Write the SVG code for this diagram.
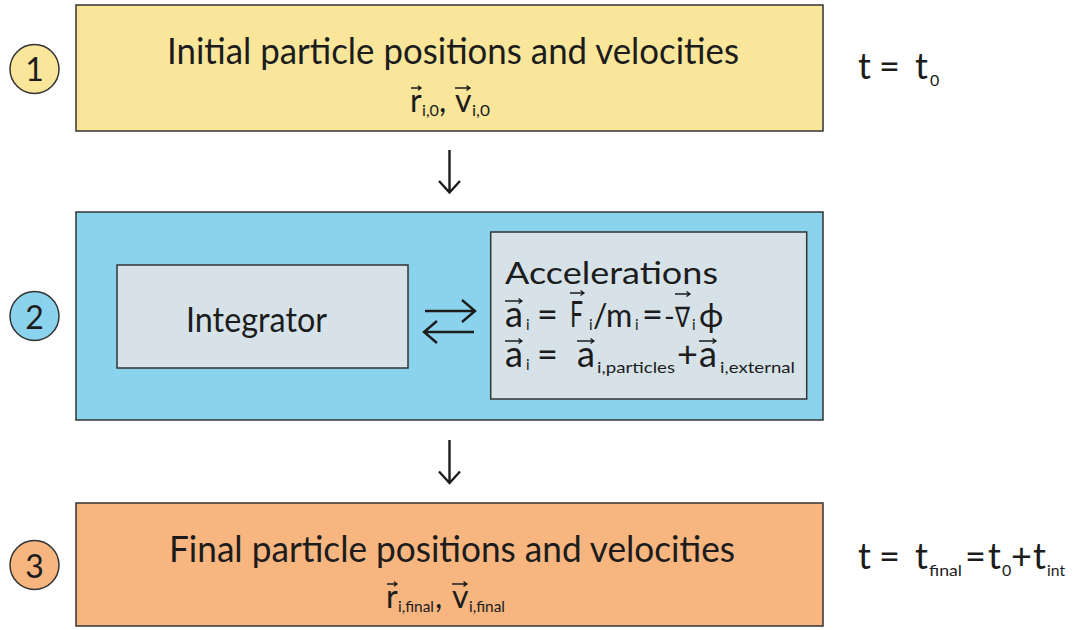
<svg xmlns="http://www.w3.org/2000/svg" width="1073" height="630" viewBox="0 0 1073 630">
<defs>
<style>
.b{stroke:#333;stroke-width:1.5}
.y{fill:#F9E69B}
.bl{fill:#8BD3EC}
.in{fill:#D6E2E8}
.o{fill:#F7B580}
text{font-family:Lato,"DejaVu Sans",sans-serif;fill:#1c1c1c}
.t1{font-size:37px}
.t2{font-size:35px}
.acc{font-size:31px}
.m{font-size:36px}
.sv{font-size:32px}
.s{font-size:16px}
.si{font-size:15px}
.num{font-size:32px;text-anchor:middle}
.vec{fill:none;stroke:#1c1c1c;stroke-width:1.3}
.c{fill:none;stroke:#1c1c1c;stroke-width:2.4}
</style>
</defs>

<g id="step1">
<circle class="b y" cx="34.5" cy="69" r="24.5"/>
<text class="num" x="34.5" y="80.5">1</text>
<rect class="b y" x="76" y="5" width="747" height="126"/>
<text class="t1" x="167" y="64" textLength="572" lengthAdjust="spacingAndGlyphs">Initial particle positions and velocities</text>
<text class="sv" y="112"><tspan x="410">r</tspan><tspan class="s" x="422" y="116" textLength="17" lengthAdjust="spacingAndGlyphs">i,0</tspan><tspan x="439" y="112">,</tspan><tspan x="455">v</tspan><tspan class="s" x="472" y="116" textLength="18" lengthAdjust="spacingAndGlyphs">i,0</tspan></text>
<path class="vec" d="M411,88 h10 m-3,-2.2 l3,2.2 l-3,2.2 M455,88 h15 m-3.5,-2.4 l3.5,2.4 l-3.5,2.4"/>
<text class="m" y="79"><tspan x="858">t</tspan><tspan x="879">=</tspan><tspan x="915">t</tspan><tspan class="s" x="930" y="86">0</tspan></text>
</g>

<g id="step2">
<circle class="b bl" cx="34.5" cy="316" r="24.5"/>
<text class="num" x="34.5" y="328.5">2</text>
<rect class="b bl" x="76" y="212" width="747" height="208"/>
</g>

<g id="integrator">
<rect class="b in" x="117" y="265" width="291" height="103"/>
<text class="t2" x="186" y="332" textLength="141" lengthAdjust="spacingAndGlyphs">Integrator</text>
</g>

<g id="accelerations">
<rect class="b in" x="490.7" y="232" width="316" height="167"/>
<text class="acc" x="505" y="284" textLength="213" lengthAdjust="spacingAndGlyphs">Accelerations</text>
<text class="m" y="327"><tspan x="505" textLength="18" lengthAdjust="spacingAndGlyphs">a</tspan><tspan class="si" x="526" y="330">i</tspan><tspan x="537" y="327">=</tspan><tspan x="570" textLength="13" lengthAdjust="spacingAndGlyphs">F</tspan><tspan class="si" x="589" y="330">i</tspan></text>
<text x="593" y="327" font-size="32">/</text>
<text x="606" y="327" font-size="32">m</text>
<text class="si" x="635" y="330">i</text>
<text class="m" x="642" y="327">=</text>
<text x="664" y="327" font-size="29">-</text>
<text x="675" y="327" font-size="28" textLength="15" lengthAdjust="spacingAndGlyphs">∇</text>
<text class="si" x="692" y="330">i</text>
<text x="699" y="327" font-size="33">ϕ</text>
<text class="m" y="367"><tspan x="505" textLength="18" lengthAdjust="spacingAndGlyphs">a</tspan><tspan class="si" x="526" y="370">i</tspan><tspan x="537" y="367">=</tspan><tspan x="577" textLength="18" lengthAdjust="spacingAndGlyphs">a</tspan><tspan class="s" x="597" y="373" textLength="78" lengthAdjust="spacingAndGlyphs">i,particles</tspan><tspan x="677" y="367">+</tspan><tspan x="699" textLength="18" lengthAdjust="spacingAndGlyphs">a</tspan><tspan class="s" x="720" y="373" textLength="75" lengthAdjust="spacingAndGlyphs">i,external</tspan></text>
<path class="vec" d="M505,301 h17 m-3.5,-2.5 l3.5,2.5 l-3.5,2.5 M570,293 h14 m-3.5,-2.5 l3.5,2.5 l-3.5,2.5 M675,294 h15 m-3.5,-2.5 l3.5,2.5 l-3.5,2.5 M505,341 h17 m-3.5,-2.5 l3.5,2.5 l-3.5,2.5 M577,341 h17 m-3.5,-2.5 l3.5,2.5 l-3.5,2.5 M699,341 h17 m-3.5,-2.5 l3.5,2.5 l-3.5,2.5"/>
</g>

<g id="step3">
<circle class="b o" cx="34.5" cy="565" r="24.5"/>
<text class="num" x="34.5" y="577.5">3</text>
<rect class="b o" x="76" y="503" width="747" height="123"/>
<text class="t1" x="169" y="562" textLength="566" lengthAdjust="spacingAndGlyphs">Final particle positions and velocities</text>
<text class="sv" y="608"><tspan x="386">r</tspan><tspan class="s" x="398" y="612" textLength="36" lengthAdjust="spacingAndGlyphs">i,final</tspan><tspan x="435" y="608">,</tspan><tspan x="452">v</tspan><tspan class="s" x="469" y="612" textLength="36" lengthAdjust="spacingAndGlyphs">i,final</tspan></text>
<path class="vec" d="M387,584 h10 m-3,-2.2 l3,2.2 l-3,2.2 M452,584 h15 m-3.5,-2.4 l3.5,2.4 l-3.5,2.4"/>
<text class="m" y="569"><tspan x="858">t</tspan><tspan x="879">=</tspan><tspan x="915">t</tspan><tspan class="s" x="929" y="576" textLength="33" lengthAdjust="spacingAndGlyphs">final</tspan><tspan x="965" y="569">=</tspan><tspan x="988">t</tspan><tspan class="s" x="1002" y="576">0</tspan><tspan x="1011" y="569">+</tspan><tspan x="1033">t</tspan><tspan class="s" x="1047" y="576" textLength="18" lengthAdjust="spacingAndGlyphs">int</tspan></text>
</g>

<g id="connectors">
<path class="c" d="M449.5,150 V192.5 M439,181 L449.5,192.5 L460,181"/>
<path class="c" d="M449.5,440 V483 M439,471.5 L449.5,483 L460,471.5"/>
<path class="c" d="M425,311 H475 M462,300 L475,311 L462,322"/>
<path class="c" d="M474,332 H424 M437,321 L424,332 L437,343"/>
</g>
</svg>
